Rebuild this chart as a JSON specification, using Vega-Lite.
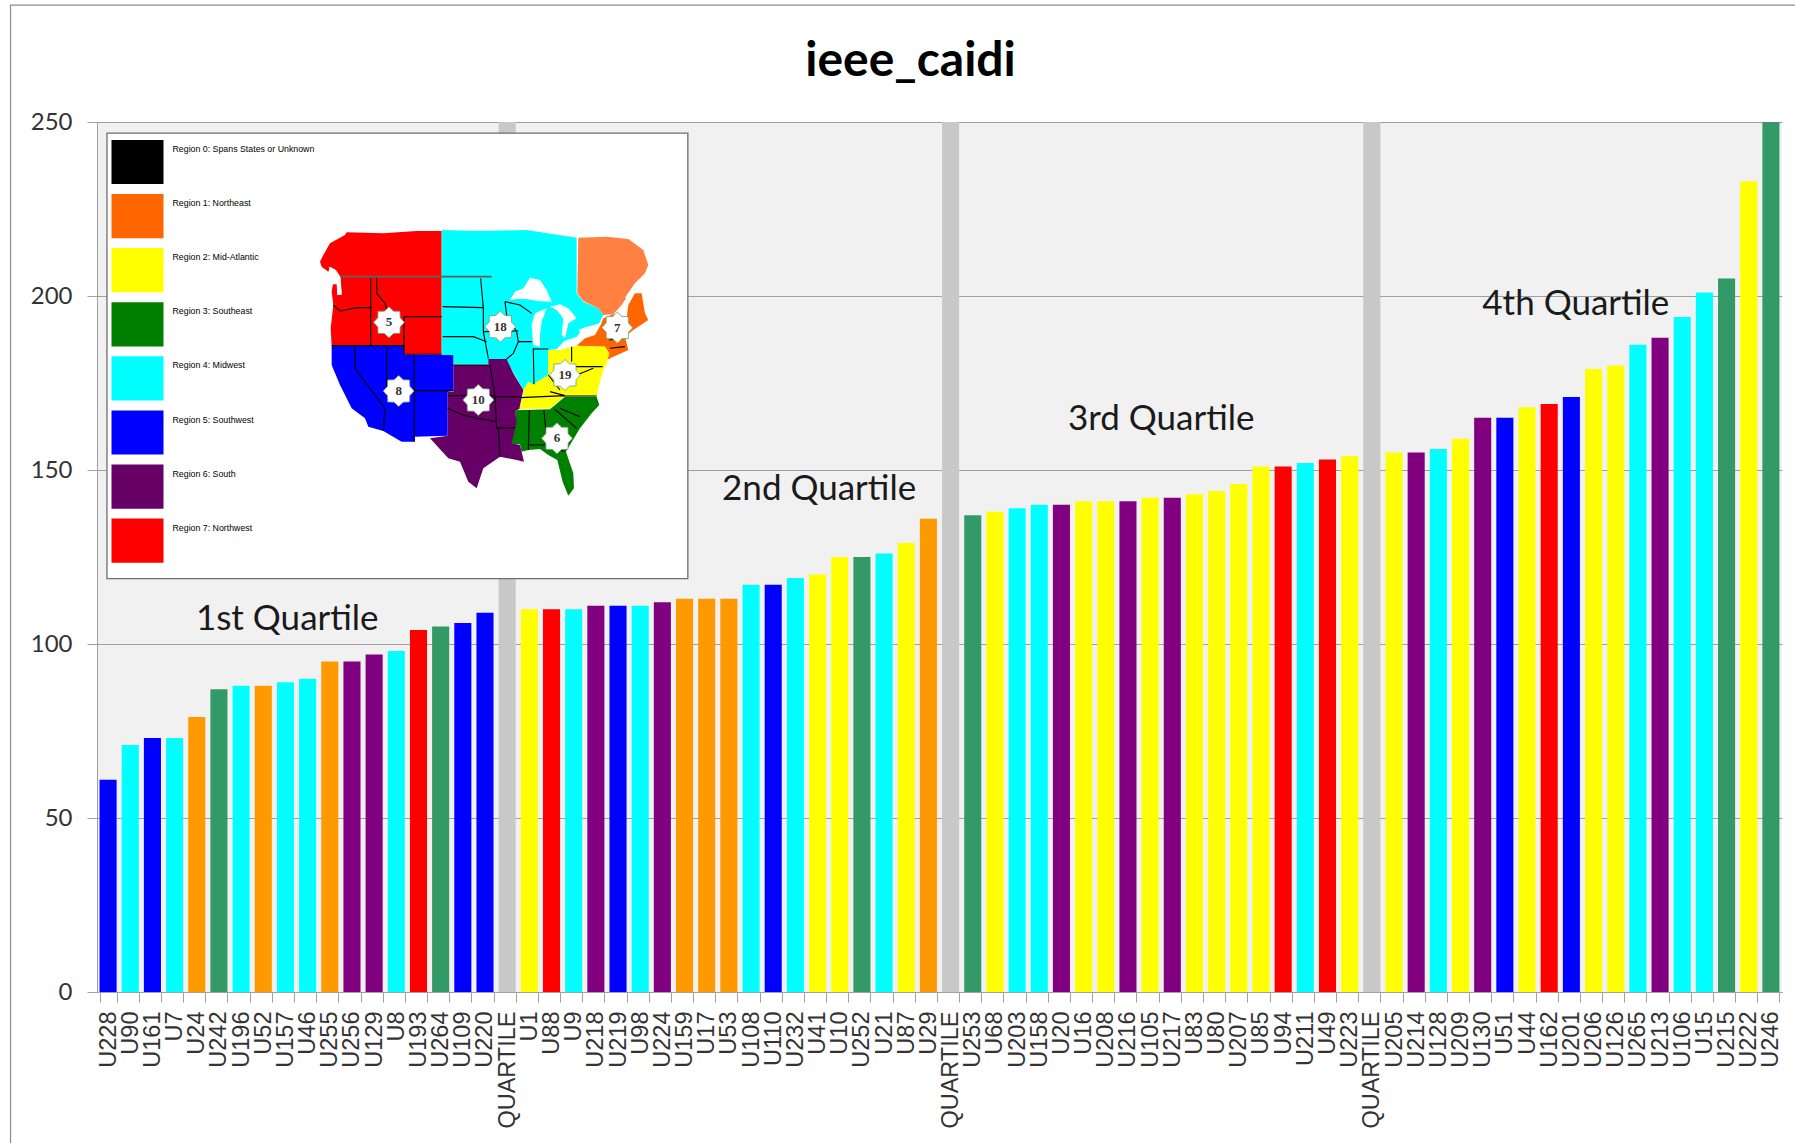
{"$schema":"https://vega.github.io/schema/vega-lite/v6.json","width":1685,"height":870,"autosize":"none","padding":{"left":97,"top":122,"right":13,"bottom":151},"background":"white","view":{"fill":"#f1f1f1","stroke":null},
"config":{"axisY":{"labelFont":"Lato","labelFontSize":24,"labelColor":"#333333","labelPadding":15,"tickSize":10,"tickColor":"#a0a0a0","domainColor":"#a0a0a0","grid":true,"gridColor":"#a0a0a0","gridWidth":1}},
"title":{"text":"ieee_caidi","font":"Lato","fontWeight":"bold","fontSize":48,"color":"#000000","anchor":"middle","dx":-29,"offset":-120,"baseline":"alphabetic"},
"layer":[
{"data":{"values":[{"k":"frame"}]},"mark":{"type":"rect","fill":"transparent","stroke":"#8c8c8c","strokeWidth":1.2},"encoding":{"x":{"datum":-3.9,"type":"quantitative","scale":{"domain":[0,76],"nice":false,"zero":false},"axis":null},"x2":{"datum":78},"y":{"datum":283.6,"type":"quantitative","scale":{"domain":[0,250],"nice":false},"axis":{"title":null,"values":[0,50,100,150,200,250]}},"y2":{"datum":-60}}},
{"data":{"values":[
{"unit":"U228","caidi":61,"region":"Southwest"},{"unit":"U90","caidi":71,"region":"Midwest"},{"unit":"U161","caidi":73,"region":"Southwest"},{"unit":"U7","caidi":73,"region":"Midwest"},{"unit":"U24","caidi":79,"region":"Northeast"},{"unit":"U242","caidi":87,"region":"Southeast"},{"unit":"U196","caidi":88,"region":"Midwest"},{"unit":"U52","caidi":88,"region":"Northeast"},{"unit":"U157","caidi":89,"region":"Midwest"},{"unit":"U46","caidi":90,"region":"Midwest"},{"unit":"U255","caidi":95,"region":"Northeast"},{"unit":"U256","caidi":95,"region":"South"},{"unit":"U129","caidi":97,"region":"South"},{"unit":"U8","caidi":98,"region":"Midwest"},{"unit":"U193","caidi":104,"region":"Northwest"},{"unit":"U264","caidi":105,"region":"Southeast"},{"unit":"U109","caidi":106,"region":"Southwest"},{"unit":"U220","caidi":109,"region":"Southwest"},
{"unit":"QUARTILE 1","caidi":250,"region":"Quartile"},
{"unit":"U1","caidi":110,"region":"Mid-Atlantic"},{"unit":"U88","caidi":110,"region":"Northwest"},{"unit":"U9","caidi":110,"region":"Midwest"},{"unit":"U218","caidi":111,"region":"South"},{"unit":"U219","caidi":111,"region":"Southwest"},{"unit":"U98","caidi":111,"region":"Midwest"},{"unit":"U224","caidi":112,"region":"South"},{"unit":"U159","caidi":113,"region":"Northeast"},{"unit":"U17","caidi":113,"region":"Northeast"},{"unit":"U53","caidi":113,"region":"Northeast"},{"unit":"U108","caidi":117,"region":"Midwest"},{"unit":"U110","caidi":117,"region":"Southwest"},{"unit":"U232","caidi":119,"region":"Midwest"},{"unit":"U41","caidi":120,"region":"Mid-Atlantic"},{"unit":"U10","caidi":125,"region":"Mid-Atlantic"},{"unit":"U252","caidi":125,"region":"Southeast"},{"unit":"U21","caidi":126,"region":"Midwest"},{"unit":"U87","caidi":129,"region":"Mid-Atlantic"},{"unit":"U29","caidi":136,"region":"Northeast"},
{"unit":"QUARTILE 2","caidi":250,"region":"Quartile"},
{"unit":"U253","caidi":137,"region":"Southeast"},{"unit":"U68","caidi":138,"region":"Mid-Atlantic"},{"unit":"U203","caidi":139,"region":"Midwest"},{"unit":"U158","caidi":140,"region":"Midwest"},{"unit":"U20","caidi":140,"region":"South"},{"unit":"U16","caidi":141,"region":"Mid-Atlantic"},{"unit":"U208","caidi":141,"region":"Mid-Atlantic"},{"unit":"U216","caidi":141,"region":"South"},{"unit":"U105","caidi":142,"region":"Mid-Atlantic"},{"unit":"U217","caidi":142,"region":"South"},{"unit":"U83","caidi":143,"region":"Mid-Atlantic"},{"unit":"U80","caidi":144,"region":"Mid-Atlantic"},{"unit":"U207","caidi":146,"region":"Mid-Atlantic"},{"unit":"U85","caidi":151,"region":"Mid-Atlantic"},{"unit":"U94","caidi":151,"region":"Northwest"},{"unit":"U211","caidi":152,"region":"Midwest"},{"unit":"U49","caidi":153,"region":"Northwest"},{"unit":"U223","caidi":154,"region":"Mid-Atlantic"},
{"unit":"QUARTILE 3","caidi":250,"region":"Quartile"},
{"unit":"U205","caidi":155,"region":"Mid-Atlantic"},{"unit":"U214","caidi":155,"region":"South"},{"unit":"U128","caidi":156,"region":"Midwest"},{"unit":"U209","caidi":159,"region":"Mid-Atlantic"},{"unit":"U130","caidi":165,"region":"South"},{"unit":"U51","caidi":165,"region":"Southwest"},{"unit":"U44","caidi":168,"region":"Mid-Atlantic"},{"unit":"U162","caidi":169,"region":"Northwest"},{"unit":"U201","caidi":171,"region":"Southwest"},{"unit":"U206","caidi":179,"region":"Mid-Atlantic"},{"unit":"U126","caidi":180,"region":"Mid-Atlantic"},{"unit":"U265","caidi":186,"region":"Midwest"},{"unit":"U213","caidi":188,"region":"South"},{"unit":"U106","caidi":194,"region":"Midwest"},{"unit":"U15","caidi":201,"region":"Midwest"},{"unit":"U215","caidi":205,"region":"Southeast"},{"unit":"U222","caidi":233,"region":"Mid-Atlantic"},{"unit":"U246","caidi":250,"region":"Southeast"}
]},
"mark":{"type":"bar"},
"encoding":{
"x":{"field":"unit","type":"nominal","sort":null,"scale":{"paddingInner":0.23,"paddingOuter":0.115},"axis":{"title":null,"labelExpr":"slice(datum.label,0,8)==='QUARTILE'?'QUARTILE':datum.label","labelAngle":-90,"labelAlign":"right","labelBaseline":"middle","labelFont":"Liberation Sans","labelFontSize":23.5,"labelColor":"#333333","labelOverlap":false,"labelBound":false,"labelFlush":false,"labelPadding":9,"tickBand":"extent","tickSize":10,"tickColor":"#a0a0a0","domainColor":"#a0a0a0","grid":false}},
"y":{"field":"caidi","type":"quantitative","scale":{"domain":[0,250],"nice":false},"axis":{"title":null,"values":[0,50,100,150,200,250]}},
"color":{"field":"region","type":"nominal","legend":null,"scale":{"domain":["Northeast","Mid-Atlantic","Southeast","Midwest","Southwest","South","Northwest","Quartile"],"range":["#ff9900","#ffff00","#339966","#00ffff","#0000ff","#800080","#ff0000","#c8c8c8"]}}
}},
{"data":{"values":[{"k":"inset"}]},"mark":{"type":"rect","fill":"white","stroke":"#6e6e6e","strokeWidth":1.3},"encoding":{"x":{"datum":0.45,"type":"quantitative","scale":{"domain":[0,76],"nice":false,"zero":false},"axis":null},"x2":{"datum":26.65},"y":{"datum":246.8,"type":"quantitative","scale":{"domain":[0,250],"nice":false},"axis":{"title":null,"values":[0,50,100,150,200,250]}},"y2":{"datum":118.8}}},
{"data":{"values":[
{"type":"Feature","properties":{"region":"Region 7:  Northwest"},"geometry":{"type":"MultiPolygon","coordinates":[[[[10,90],[30,55],[75,30],[80,22],[190,25],[290,18],[365,18],[365,157],[62,157],[48,135],[30,125],[25,140],[5,125],[0,110],[10,90]]],[[[62,157],[365,157],[365,388],[252,388],[252,362],[35,362],[32,310],[40,240],[35,200],[40,170],[52,178],[52,210],[65,210],[62,157]]]]}},
{"type":"Feature","properties":{"region":"Region 4:  Midwest"},"geometry":{"type":"Polygon","coordinates":[[[365,15],[480,18],[620,15],[770,38],[770,205],[790,230],[835,250],[850,270],[838,295],[790,310],[770,335],[730,350],[712,372],[685,375],[685,450],[640,478],[625,470],[610,495],[592,462],[570,425],[560,402],[505,402],[505,418],[400,418],[400,390],[365,390],[365,15]]]}},
{"type":"Feature","properties":{"region":"Region 1:  Northeast"},"geometry":{"type":"Polygon","coordinates":[[[770,362],[795,340],[825,330],[842,300],[850,280],[880,268],[920,280],[925,240],[945,205],[965,205],[975,265],[985,285],[940,315],[915,335],[925,375],[880,395],[860,405],[868,385],[855,365],[770,362]]]}},
{"type":"Feature","properties":{"region":"Region 2:  Mid-Atlantic"},"geometry":{"type":"Polygon","coordinates":[[[685,375],[715,375],[770,362],[855,365],[868,385],[860,415],[848,440],[835,490],[830,512],[735,512],[690,550],[598,552],[608,518],[610,495],[625,470],[640,478],[685,450],[685,375]]]}},
{"type":"Feature","properties":{"region":"Region 3:  Southeast"},"geometry":{"type":"Polygon","coordinates":[[[735,515],[830,515],[838,540],[815,565],[780,610],[750,660],[738,680],[760,745],[762,790],[745,812],[728,770],[712,705],[685,690],[660,672],[625,675],[605,680],[600,658],[572,656],[588,590],[585,556],[690,553],[735,515]]]}},
{"type":"Feature","properties":{"region":"Region 5:  Southwest"},"geometry":{"type":"Polygon","coordinates":[[[35,362],[252,362],[252,390],[400,390],[400,497],[383,500],[383,632],[283,635],[283,650],[245,650],[190,618],[145,605],[135,580],[95,550],[60,480],[35,420],[35,362]]]}},
{"type":"Feature","properties":{"region":"Region 6:  South"},"geometry":{"type":"Polygon","coordinates":[[[400,420],[505,420],[505,402],[560,402],[580,445],[610,495],[598,552],[585,558],[590,590],[575,655],[600,660],[612,710],[590,705],[540,695],[490,730],[470,790],[445,770],[420,710],[385,700],[330,640],[383,632],[383,500],[400,500],[400,420]]]}}
]},
"mark":{"type":"geoshape","strokeWidth":0},
"projection":{"type":"identity","scale":0.3333,"translate":[223,103]},
"encoding":{"color":{"field":"properties.region","type":"nominal","scale":{"domain":["Region 0:  Spans States or Unknown","Region 1:  Northeast","Region 2:  Mid-Atlantic","Region 3:  Southeast","Region 4:  Midwest","Region 5:  Southwest","Region 6:  South","Region 7:  Northwest"],"range":["#000000","#ff6600","#ffff00","#008000","#00ffff","#0000ff","#660066","#ff0000"]},
"legend":{"title":null,"orient":"none","legendX":14.5,"legendY":14,"padding":0,"symbolType":"M-1,-0.85H1V0.85H-1Z","symbolSize":2704,"symbolStrokeWidth":0,"symbolOpacity":1,"rowPadding":5.1,"labelOffset":9,"labelFont":"Liberation Sans","labelFontSize":8.8,"labelFontWeight":500,"labelColor":"#000000","labelLimit":200,"encode":{"labels":{"update":{"dy":{"value":-13}}}}}}}},
{"data":{"values":[{"type":"Feature","properties":{"name":"Quebec"},"geometry":{"type":"Polygon","coordinates":[[[775,38],[860,35],[925,42],[970,75],[985,120],[975,145],[945,175],[915,225],[905,240],[880,268],[850,270],[835,250],[790,228],[772,205],[775,38]]]}}]},
"mark":{"type":"geoshape","fill":"#ff8040","strokeWidth":0},"projection":{"type":"identity","scale":0.3333,"translate":[223,103]}},
{"data":{"values":[
{"type":"Feature","properties":{"name":"Superior"},"geometry":{"type":"Polygon","coordinates":[[[570,225],[585,200],[610,190],[630,158],[660,165],[680,195],[695,230],[650,228],[620,222],[590,222],[570,225]]]}},
{"type":"Feature","properties":{"name":"Michigan"},"geometry":{"type":"Polygon","coordinates":[[[640,360],[635,300],[645,265],[680,250],[665,290],[660,330],[660,365],[640,360]]]}},
{"type":"Feature","properties":{"name":"Huron"},"geometry":{"type":"Polygon","coordinates":[[[690,245],[720,238],[745,250],[770,280],[745,295],[735,340],[725,330],[730,280],[710,255],[690,245]]]}},
{"type":"Feature","properties":{"name":"Erie"},"geometry":{"type":"Polygon","coordinates":[[[710,372],[740,345],[780,335],[760,355],[725,375],[710,372]]]}},
{"type":"Feature","properties":{"name":"Ontario"},"geometry":{"type":"Polygon","coordinates":[[[775,315],[800,305],[825,303],[815,320],[785,325],[775,315]]]}},
{"type":"Feature","properties":{"name":"St Lawrence"},"geometry":{"type":"Polygon","coordinates":[[[915,218],[945,175],[985,150],[950,185],[925,220],[915,218]]]}},
{"type":"Feature","properties":{"name":"Puget"},"geometry":{"type":"Polygon","coordinates":[[[25,125],[45,135],[60,160],[65,205],[52,210],[50,178],[20,178],[48,165],[40,150],[25,125]]]}}
]},
"mark":{"type":"geoshape","fill":"white","strokeWidth":0},"projection":{"type":"identity","scale":0.3333,"translate":[223,103]}},
{"data":{"values":[
{"type":"Feature","properties":{"name":"state lines"},"geometry":{"type":"MultiLineString","coordinates":[
[[40,240],[60,258],[110,248],[155,248]],[[152,160],[152,362]],[[170,160],[170,205],[195,235],[205,270],[252,290]],[[252,275],[365,275]],[[252,275],[252,362]],[[35,362],[252,362],[252,388],[365,388]],
[[200,365],[200,510]],[[105,365],[105,430],[195,550],[190,618]],[[283,390],[283,650]],[[195,497],[400,497]],
[[368,245],[490,248]],[[368,335],[460,335],[500,350]],[[482,160],[490,248],[490,320],[505,400]],[[490,320],[595,318]],[[555,230],[560,270],[590,320],[595,350],[580,385],[560,402]],[[595,350],[635,350]],[[640,370],[642,478]],[[640,372],[685,372]],[[555,230],[600,240],[635,265]],
[[400,420],[505,420]],[[385,512],[525,512]],[[510,420],[525,515],[600,515]],[[525,515],[530,610],[585,608]],[[383,550],[430,570],[470,580],[530,590]],[[535,610],[540,695]],
[[755,365],[755,410]],[[755,425],[848,425]],[[600,518],[735,512]],[[770,450],[820,430]],[[690,500],[735,512]],[[685,450],[720,495]],[[735,513],[830,513]],
[[628,556],[625,675]],[[672,556],[680,640]],[[705,553],[770,610]],[[720,550],[780,575]],[[625,660],[680,660],[735,680]],
[[875,300],[870,345],[920,340]],[[870,370],[915,365]]
]}}
]},
"mark":{"type":"geoshape","filled":false,"stroke":"#000000","strokeWidth":1.1},"projection":{"type":"identity","scale":0.3333,"translate":[223,103]}},
{"data":{"values":[{"type":"Feature","properties":{"name":"border"},"geometry":{"type":"LineString","coordinates":[[60,155],[515,155]]}}]},
"mark":{"type":"geoshape","filled":false,"stroke":"#606060","strokeWidth":1.6},"projection":{"type":"identity","scale":0.3333,"translate":[223,103]}},
{"data":{"values":[{"n":"5","px":207,"py":292},{"n":"18","px":541,"py":305},{"n":"7","px":892,"py":308},{"n":"19","px":735,"py":450},{"n":"8","px":236,"py":498},{"n":"10","px":475,"py":525},{"n":"6","px":711,"py":640}]},
"layer":[
{"mark":{"type":"point","shape":"M0,-1L0.3,-0.72L0.71,-0.71L0.72,-0.3L1,0L0.72,0.3L0.71,0.71L0.3,0.72L0,1L-0.3,0.72L-0.71,0.71L-0.72,0.3L-1,0L-0.72,-0.3L-0.71,-0.71L-0.3,-0.72Z","filled":true,"fill":"white","stroke":"#6f9a7a","strokeWidth":0.8,"opacity":1,"size":961},"projection":{"type":"identity","scale":0.3333,"translate":[223,103]},"encoding":{"longitude":{"field":"px","type":"quantitative"},"latitude":{"field":"py","type":"quantitative"}}},
{"mark":{"type":"text","font":"Liberation Serif","fontWeight":"bold","fontSize":13,"color":"#333333"},"projection":{"type":"identity","scale":0.3333,"translate":[223,103]},"encoding":{"longitude":{"field":"px","type":"quantitative"},"latitude":{"field":"py","type":"quantitative"},"text":{"field":"n","type":"nominal"}}}
]},
{"data":{"values":[{"label":"1st Quartile","at":8.58,"value":104.1},{"label":"2nd Quartile","at":32.57,"value":141.4},{"label":"3rd Quartile","at":48.0,"value":161.4},{"label":"4th Quartile","at":66.7,"value":194.6}]},
"mark":{"type":"text","font":"Lato","fontSize":35,"color":"#1a1a1a","baseline":"alphabetic","align":"center"},
"encoding":{"x":{"field":"at","type":"quantitative","scale":{"domain":[0,76],"nice":false,"zero":false},"axis":null},"y":{"field":"value","type":"quantitative","scale":{"domain":[0,250],"nice":false},"axis":{"title":null,"values":[0,50,100,150,200,250]}},"text":{"field":"label","type":"nominal"}}}
],
"resolve":{"scale":{"x":"independent","color":"independent"}}}
